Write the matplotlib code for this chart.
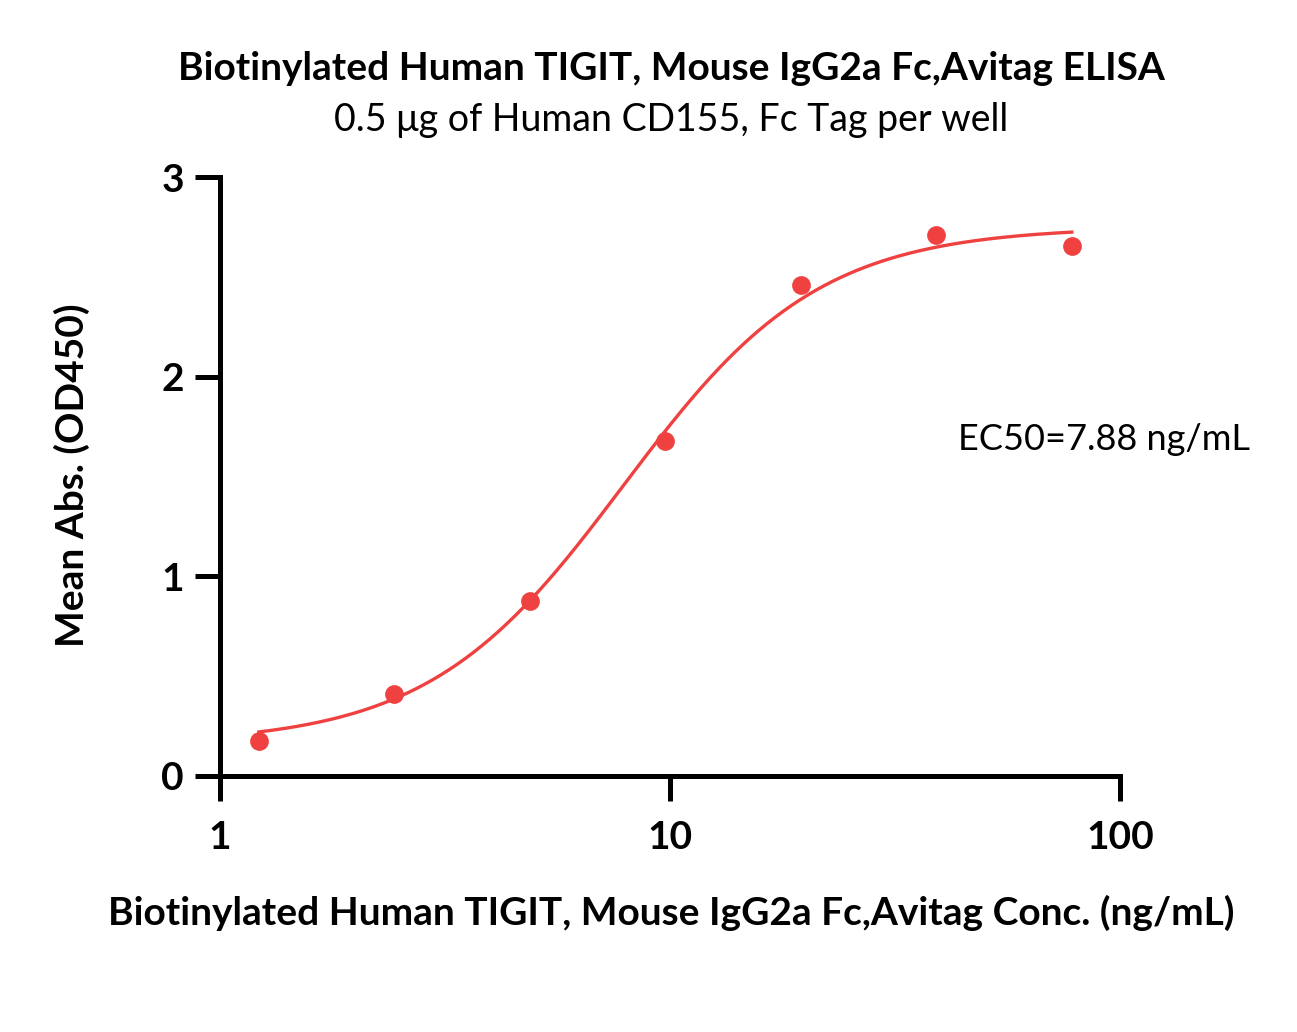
import numpy as np
import matplotlib.pyplot as plt
from matplotlib.ticker import FixedLocator, NullLocator

# data
conc = [1.22, 2.44, 4.88, 9.77, 19.53, 39.06, 78.13]
od450 = [0.175, 0.41, 0.876, 1.68, 2.46, 2.71, 2.655]

# 4PL fit parameters (estimated from the drawn curve)
bottom, top, ec50, hill = 0.16, 2.75, 7.88, 2.0

def fourPL(x, b, t, c, h):
    return b + (t - b) / (1 + (c / x) ** h)

plt.rcParams['font.family'] = ['Lato', 'DejaVu Sans']

fig = plt.figure(figsize=(12.97, 10.32), dpi=100)
W, H = 1297, 1032
ax = fig.add_axes([220 / W, 1 - 776 / H, 900 / W, 599 / H])

red = '#F04141'
xfit = np.logspace(np.log10(conc[0]), np.log10(conc[-1]), 300)
ax.plot(xfit, fourPL(xfit, bottom, top, ec50, hill), color=red, lw=2.4)
ax.plot(conc, od450, 'o', color=red, ms=13.5, mec='none')

ax.set_xscale('log')
ax.set_xlim(1, 100)
ax.set_ylim(0, 3)
ax.xaxis.set_major_locator(FixedLocator([1, 10, 100]))
ax.xaxis.set_minor_locator(NullLocator())
ax.set_xticklabels(['1', '10', '100'])
ax.set_yticks([0, 1, 2, 3])

for s in ['top', 'right']:
    ax.spines[s].set_visible(False)
for s in ['left', 'bottom']:
    ax.spines[s].set_linewidth(3.6)
ax.tick_params(width=3.6, length=18, labelsize=28)
for lab in ax.get_xticklabels() + ax.get_yticklabels():
    lab.set_fontweight('bold')
ax.tick_params(axis='x', pad=14)
ax.tick_params(axis='y', pad=8)

ax.text(958 / W, 1 - 440 / H, 'EC50=7.88 ng/mL', transform=fig.transFigure,
        fontsize=26, va='center', ha='left')

fig.text(671 / W, 1 - 68 / H, 'Biotinylated Human TIGIT, Mouse IgG2a Fc,Avitag ELISA',
         ha='center', va='center', fontsize=28, fontweight='bold')
fig.text(671 / W, 1 - 120 / H, '0.5 \u03bcg of Human CD155, Fc Tag per well',
         ha='center', va='center', fontsize=27)
fig.text(671 / W, 1 - 913 / H, 'Biotinylated Human TIGIT, Mouse IgG2a Fc,Avitag Conc. (ng/mL)',
         ha='center', va='center', fontsize=28, fontweight='bold')
fig.text(72 / W, 1 - 475 / H, 'Mean Abs. (OD450)', rotation=90,
         ha='center', va='center', fontsize=28, fontweight='bold')

fig.savefig('out.png', dpi=100)
